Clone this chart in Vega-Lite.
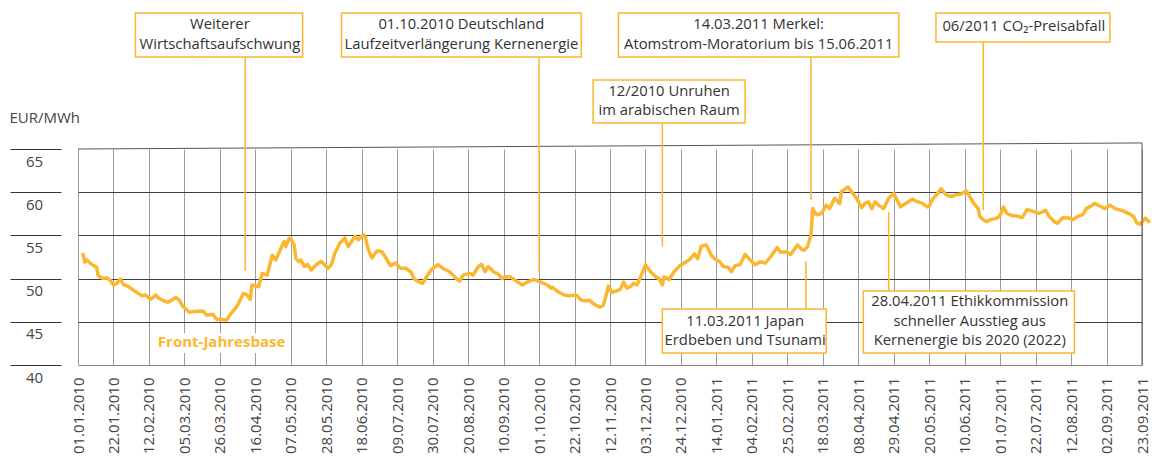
{
  "$schema": "https://vega.github.io/schema/vega-lite/v6.json",
  "width": 1064,
  "height": 216,
  "autosize": {"type": "none"},
  "padding": {"left": 78, "top": 149, "right": 10, "bottom": 105},
  "config": {"font": "Open Sans", "view": {"stroke": null}},
  "datasets": {
    "price": [
      {"d":"2010-01-04","v":52.8},{"d":"2010-01-05","v":51.9},{"d":"2010-01-06","v":52.2},{"d":"2010-01-09","v":51.65},
      {"d":"2010-01-12","v":51.3},{"d":"2010-01-13","v":50.3},{"d":"2010-01-16","v":50.0},{"d":"2010-01-18","v":50.1},
      {"d":"2010-01-20","v":49.8},{"d":"2010-01-22","v":49.26},{"d":"2010-01-24","v":49.45},{"d":"2010-01-26","v":49.95},
      {"d":"2010-01-28","v":49.3},{"d":"2010-01-31","v":49.06},{"d":"2010-02-04","v":48.5},{"d":"2010-02-08","v":48.0},
      {"d":"2010-02-10","v":48.1},{"d":"2010-02-13","v":47.6},{"d":"2010-02-16","v":48.1},{"d":"2010-02-18","v":47.7},
      {"d":"2010-02-23","v":47.25},{"d":"2010-02-28","v":47.8},{"d":"2010-03-02","v":47.5},{"d":"2010-03-04","v":46.8},
      {"d":"2010-03-08","v":46.1},{"d":"2010-03-11","v":46.2},{"d":"2010-03-16","v":46.25},{"d":"2010-03-18","v":45.8},
      {"d":"2010-03-22","v":45.85},{"d":"2010-03-24","v":45.3},{"d":"2010-03-30","v":45.2},{"d":"2010-04-01","v":45.8},
      {"d":"2010-04-05","v":46.75},{"d":"2010-04-09","v":48.3},{"d":"2010-04-11","v":48.1},{"d":"2010-04-13","v":47.6},
      {"d":"2010-04-14","v":49.26},{"d":"2010-04-18","v":49.06},{"d":"2010-04-20","v":50.6},{"d":"2010-04-23","v":50.4},
      {"d":"2010-04-26","v":52.7},{"d":"2010-04-28","v":52.15},{"d":"2010-05-03","v":54.3},{"d":"2010-05-04","v":53.7},
      {"d":"2010-05-06","v":54.66},{"d":"2010-05-07","v":54.6},{"d":"2010-05-09","v":53.9},{"d":"2010-05-10","v":52.3},
      {"d":"2010-05-12","v":51.95},{"d":"2010-05-13","v":52.15},{"d":"2010-05-15","v":51.4},{"d":"2010-05-17","v":51.65},
      {"d":"2010-05-19","v":51.0},{"d":"2010-05-22","v":51.6},{"d":"2010-05-25","v":52.0},{"d":"2010-05-29","v":51.2},
      {"d":"2010-05-31","v":51.6},{"d":"2010-06-02","v":52.9},{"d":"2010-06-05","v":54.1},{"d":"2010-06-08","v":54.7},
      {"d":"2010-06-10","v":53.7},{"d":"2010-06-12","v":54.3},{"d":"2010-06-14","v":54.9},{"d":"2010-06-16","v":54.5},
      {"d":"2010-06-19","v":55.1},{"d":"2010-06-20","v":54.85},{"d":"2010-06-22","v":53.3},{"d":"2010-06-24","v":52.4},
      {"d":"2010-06-27","v":53.2},{"d":"2010-06-30","v":53.1},{"d":"2010-07-02","v":52.5},{"d":"2010-07-05","v":51.5},
      {"d":"2010-07-08","v":51.8},{"d":"2010-07-11","v":51.2},{"d":"2010-07-14","v":51.2},{"d":"2010-07-17","v":50.8},
      {"d":"2010-07-19","v":50.0},{"d":"2010-07-21","v":49.7},{"d":"2010-07-24","v":49.45},{"d":"2010-07-27","v":50.4},
      {"d":"2010-07-30","v":51.2},{"d":"2010-08-02","v":51.6},{"d":"2010-08-05","v":51.2},{"d":"2010-08-09","v":50.8},
      {"d":"2010-08-13","v":50.0},{"d":"2010-08-15","v":49.7},{"d":"2010-08-17","v":50.4},{"d":"2010-08-21","v":50.6},
      {"d":"2010-08-23","v":50.4},{"d":"2010-08-26","v":51.4},{"d":"2010-08-28","v":51.65},{"d":"2010-08-30","v":50.8},
      {"d":"2010-09-01","v":51.4},{"d":"2010-09-04","v":50.8},{"d":"2010-09-07","v":50.5},{"d":"2010-09-09","v":50.0},
      {"d":"2010-09-11","v":50.2},{"d":"2010-09-14","v":50.2},{"d":"2010-09-17","v":49.8},{"d":"2010-09-21","v":49.26},
      {"d":"2010-09-24","v":49.6},{"d":"2010-09-28","v":49.9},{"d":"2010-10-02","v":49.6},{"d":"2010-10-06","v":49.26},
      {"d":"2010-10-08","v":48.9},{"d":"2010-10-09","v":49.0},{"d":"2010-10-12","v":48.5},{"d":"2010-10-16","v":48.1},
      {"d":"2010-10-19","v":48.0},{"d":"2010-10-23","v":48.1},{"d":"2010-10-26","v":47.5},{"d":"2010-10-29","v":47.45},
      {"d":"2010-10-31","v":47.5},{"d":"2010-11-02","v":47.1},{"d":"2010-11-06","v":46.7},{"d":"2010-11-08","v":46.9},
      {"d":"2010-11-10","v":48.3},{"d":"2010-11-11","v":49.1},{"d":"2010-11-13","v":48.4},{"d":"2010-11-15","v":48.5},
      {"d":"2010-11-18","v":48.75},{"d":"2010-11-20","v":49.6},{"d":"2010-11-22","v":48.9},{"d":"2010-11-24","v":49.06},
      {"d":"2010-11-26","v":49.45},{"d":"2010-11-28","v":49.26},{"d":"2010-12-01","v":50.6},{"d":"2010-12-03","v":51.6},
      {"d":"2010-12-06","v":50.8},{"d":"2010-12-09","v":50.2},{"d":"2010-12-11","v":50.0},{"d":"2010-12-13","v":49.26},
      {"d":"2010-12-14","v":50.2},{"d":"2010-12-17","v":49.9},{"d":"2010-12-20","v":50.8},{"d":"2010-12-23","v":51.45},
      {"d":"2010-12-26","v":51.8},{"d":"2010-12-29","v":52.2},{"d":"2011-01-01","v":52.85},{"d":"2011-01-03","v":52.3},
      {"d":"2011-01-05","v":53.75},{"d":"2011-01-08","v":53.9},{"d":"2011-01-11","v":52.7},{"d":"2011-01-13","v":52.3},
      {"d":"2011-01-16","v":51.95},{"d":"2011-01-18","v":51.4},{"d":"2011-01-21","v":51.3},{"d":"2011-01-23","v":50.8},
      {"d":"2011-01-25","v":51.5},{"d":"2011-01-28","v":51.6},{"d":"2011-01-31","v":52.8},{"d":"2011-02-03","v":52.15},
      {"d":"2011-02-06","v":51.6},{"d":"2011-02-09","v":51.95},{"d":"2011-02-12","v":51.8},{"d":"2011-02-15","v":52.5},
      {"d":"2011-02-19","v":53.6},{"d":"2011-02-21","v":53.05},{"d":"2011-02-24","v":53.1},{"d":"2011-02-27","v":52.8},
      {"d":"2011-03-03","v":53.9},{"d":"2011-03-06","v":53.3},{"d":"2011-03-07","v":53.3},{"d":"2011-03-09","v":53.7},
      {"d":"2011-03-11","v":55.05},{"d":"2011-03-12","v":58.1},{"d":"2011-03-14","v":57.4},{"d":"2011-03-17","v":57.5},
      {"d":"2011-03-20","v":58.5},{"d":"2011-03-22","v":58.1},{"d":"2011-03-25","v":59.3},{"d":"2011-03-28","v":58.7},
      {"d":"2011-03-29","v":60.06},{"d":"2011-04-02","v":60.6},{"d":"2011-04-04","v":60.06},{"d":"2011-04-07","v":59.3},
      {"d":"2011-04-10","v":58.2},{"d":"2011-04-12","v":58.7},{"d":"2011-04-14","v":58.9},{"d":"2011-04-16","v":58.1},
      {"d":"2011-04-18","v":58.9},{"d":"2011-04-20","v":58.5},{"d":"2011-04-23","v":58.1},{"d":"2011-04-26","v":59.3},
      {"d":"2011-04-29","v":59.85},{"d":"2011-05-03","v":58.3},{"d":"2011-05-07","v":58.8},{"d":"2011-05-10","v":59.2},
      {"d":"2011-05-13","v":58.9},{"d":"2011-05-16","v":58.7},{"d":"2011-05-19","v":58.3},{"d":"2011-05-20","v":58.4},
      {"d":"2011-05-22","v":59.2},{"d":"2011-05-25","v":59.85},{"d":"2011-05-27","v":60.4},{"d":"2011-05-30","v":59.7},
      {"d":"2011-06-02","v":59.5},{"d":"2011-06-05","v":59.7},{"d":"2011-06-08","v":59.8},{"d":"2011-06-11","v":60.15},
      {"d":"2011-06-13","v":59.5},{"d":"2011-06-15","v":58.8},{"d":"2011-06-18","v":58.1},{"d":"2011-06-19","v":57.2},
      {"d":"2011-06-21","v":56.8},{"d":"2011-06-23","v":56.6},{"d":"2011-06-25","v":56.8},{"d":"2011-06-29","v":57.0},
      {"d":"2011-07-01","v":57.3},{"d":"2011-07-03","v":58.3},{"d":"2011-07-05","v":57.55},{"d":"2011-07-08","v":57.3},
      {"d":"2011-07-12","v":57.2},{"d":"2011-07-14","v":57.05},{"d":"2011-07-17","v":58.0},{"d":"2011-07-21","v":57.75},
      {"d":"2011-07-24","v":57.55},{"d":"2011-07-28","v":57.9},{"d":"2011-07-30","v":57.2},{"d":"2011-08-02","v":56.6},
      {"d":"2011-08-04","v":56.4},{"d":"2011-08-07","v":57.05},{"d":"2011-08-11","v":57.0},{"d":"2011-08-13","v":56.8},
      {"d":"2011-08-16","v":57.2},{"d":"2011-08-19","v":57.4},{"d":"2011-08-21","v":58.1},{"d":"2011-08-23","v":58.3},
      {"d":"2011-08-26","v":58.7},{"d":"2011-08-29","v":58.4},{"d":"2011-09-01","v":58.1},{"d":"2011-09-04","v":58.5},
      {"d":"2011-09-07","v":58.1},{"d":"2011-09-11","v":57.9},{"d":"2011-09-15","v":57.55},{"d":"2011-09-18","v":57.2},
      {"d":"2011-09-20","v":56.4},{"d":"2011-09-22","v":56.3},{"d":"2011-09-25","v":57.0},{"d":"2011-09-27","v":56.6}
    ],
    "boxes": [
      {"x1":"2010-02-04","x2":"2010-05-14","xc":"2010-03-26","y1":75.65,"y2":80.74,"yc":79.35,"t":"Weiterer\nWirtschaftsaufschwung"},
      {"x1":"2010-06-06","x2":"2010-10-26","xc":"2010-08-16","y1":75.65,"y2":80.74,"yc":79.35,"t":"01.10.2010 Deutschland\nLaufzeitverlängerung Kernenergie"},
      {"x1":"2010-11-02","x2":"2011-01-31","xc":"2010-12-17","y1":68.01,"y2":72.99,"yc":71.6,"t":"12/2010 Unruhen\nim arabischen Raum"},
      {"x1":"2010-11-17","x2":"2011-05-02","xc":"2011-02-08","y1":75.65,"y2":80.74,"yc":79.35,"t":"14.03.2011 Merkel:\nAtomstrom-Moratorium bis 15.06.2011"},
      {"x1":"2011-05-24","x2":"2011-09-04","xc":"2011-07-15","y1":77.38,"y2":80.74,"yc":79.1,"t":"06/2011 CO₂-Preisabfall"},
      {"x1":"2010-12-13","x2":"2011-03-20","xc":"2011-01-31","y1":41.39,"y2":46.48,"yc":45.0,"t":"11.03.2011 Japan\nErdbeben und Tsunami"},
      {"x1":"2011-04-11","x2":"2011-08-14","xc":"2011-06-13","y1":41.39,"y2":48.56,"yc":47.29,"t":"28.04.2011 Ethikkommission\nschneller Ausstieg aus\nKernenergie bis 2020 (2022)"}
    ],
    "leaders": [
      {"x":"2010-04-10","ya":75.65,"yb":50.88},
      {"x":"2010-10-01","ya":75.65,"yb":50.88},
      {"x":"2010-12-13","ya":68.01,"yb":53.69},
      {"x":"2011-03-11","ya":75.65,"yb":59.1},
      {"x":"2011-06-21","ya":77.38,"yb":57.94},
      {"x":"2011-03-08","ya":46.48,"yb":52.04},
      {"x":"2011-04-26","ya":48.56,"yb":57.74}
    ],
    "series": [
      {"x1":"2010-02-14","x2":"2010-05-07","xc":"2010-03-27","y1":41.39,"y2":43.7,"yc":42.66,"t":"Front-Jahresbase"}
    ],
    "frame": [
      {"xa":"2010-01-01","ya":65,"xb":"2011-09-23","yb":65.7},
      {"xa":"2011-09-23","ya":40,"xb":"2011-09-23","yb":65.7}
    ]
  },
  "layer": [
    {
      "data": {"name": "price"},
      "mark": {"type": "line", "color": "#fbb731", "strokeWidth": 3.5, "strokeJoin": "round", "strokeCap": "round"},
      "encoding": {
        "x": {
          "field": "d", "type": "temporal",
          "scale": {"type": "utc", "domain": [1262304000000, 1316736000000], "nice": false},
          "axis": {
            "orient": "bottom",
            "tickCount": 60,
            "values": [1262304000000,1264118400000,1265932800000,1267747200000,1269561600000,1271376000000,1273190400000,1275004800000,
                       1276819200000,1278633600000,1280448000000,1282262400000,1284076800000,1285891200000,1287705600000,1289520000000,
                       1291334400000,1293148800000,1294963200000,1296777600000,1298592000000,1300406400000,1302220800000,1304035200000,
                       1305849600000,1307664000000,1309478400000,1311292800000,1313107200000,1314921600000,1316736000000],
            "format": "%d.%m.%Y",
            "labelAngle": 270, "labelAlign": "right", "labelBaseline": "middle", "labelPadding": 12,
            "labelFontSize": 15, "labelColor": "#444444", "labelOverlap": false, "labelFlush": false,
            "ticks": false, "grid": true, "gridColor": "#9c9c9c", "gridWidth": 1,
            "domain": true, "domainColor": "#888888", "domainWidth": 1, "title": null
          }
        },
        "y": {
          "field": "v", "type": "quantitative",
          "scale": {"domain": [40, 65], "nice": false, "zero": false},
          "axis": {"orient": "left", "values": [40, 45, 50, 55, 60, 65], "tickCount": 20, "offset": 17, "tickSize": 51, "tickColor": "#333333", "tickWidth": 1,
                   "domain": false, "grid": false, "labelAlign": "center", "labelBaseline": "middle", "labelPadding": -24, "labelOffset": 12,
                   "labelFontSize": 15, "labelColor": "#444444",
                   "title": "EUR/MWh", "titleAngle": 0, "titleAlign": "left", "titleBaseline": "middle", "titleX": -52, "titleY": -32,
                   "titleFontSize": 15, "titleFontWeight": "normal", "titleColor": "#444444"}
        }
      }
    },
    {
      "data": {"name": "series"},
      "mark": {"type": "rect", "fill": "white"},
      "encoding": {
        "x": {"field": "x1", "type": "temporal", "scale": {"type": "utc", "domain": [1262304000000, 1316736000000], "nice": false}},
        "x2": {"field": "x2"},
        "y": {
          "field": "y1", "type": "quantitative",
          "scale": {"domain": [40, 65], "nice": false, "zero": false},
          "axis": {"orient": "left", "values": [45, 50, 55, 60], "tickCount": 20, "grid": true, "gridColor": "#404040", "gridWidth": 1,
                   "labels": false, "ticks": false, "domain": false, "title": null}
        },
        "y2": {"field": "y2"}
      }
    },
    {
      "data": {"name": "frame"},
      "mark": {"type": "rule", "color": "#555555", "strokeWidth": 1},
      "encoding": {
        "x": {"field": "xa", "type": "temporal", "scale": {"type": "utc", "domain": [1262304000000, 1316736000000], "nice": false}},
        "x2": {"field": "xb"},
        "y": {"field": "ya", "type": "quantitative", "scale": {"domain": [40, 65], "nice": false, "zero": false}, "axis": null},
        "y2": {"field": "yb"}
      }
    },
    {
      "data": {"name": "leaders"},
      "mark": {"type": "rule", "color": "#fbb731", "strokeWidth": 1.5},
      "encoding": {
        "x": {"field": "x", "type": "temporal", "scale": {"type": "utc", "domain": [1262304000000, 1316736000000], "nice": false}},
        "y": {"field": "ya", "type": "quantitative", "scale": {"domain": [40, 65], "nice": false, "zero": false}, "axis": null},
        "y2": {"field": "yb"}
      }
    },
    {
      "data": {"name": "boxes"},
      "mark": {"type": "rect", "fill": "white", "stroke": "#fbb731", "strokeWidth": 1.5},
      "encoding": {
        "x": {"field": "x1", "type": "temporal", "scale": {"type": "utc", "domain": [1262304000000, 1316736000000], "nice": false}},
        "x2": {"field": "x2"},
        "y": {"field": "y1", "type": "quantitative", "scale": {"domain": [40, 65], "nice": false, "zero": false}, "axis": null},
        "y2": {"field": "y2"}
      }
    },
    {
      "data": {"name": "boxes"},
      "mark": {"type": "text", "fontSize": 14.8, "color": "#333333", "align": "center", "baseline": "middle", "lineBreak": "\n", "lineHeight": 19.5},
      "encoding": {
        "x": {"field": "xc", "type": "temporal", "scale": {"type": "utc", "domain": [1262304000000, 1316736000000], "nice": false}},
        "y": {"field": "yc", "type": "quantitative", "scale": {"domain": [40, 65], "nice": false, "zero": false}, "axis": null},
        "text": {"field": "t"}
      }
    },
    {
      "data": {"name": "series"},
      "mark": {"type": "text", "fontSize": 15, "fontWeight": "bold", "color": "#fbb731", "align": "center", "baseline": "middle"},
      "encoding": {
        "x": {"field": "xc", "type": "temporal", "scale": {"type": "utc", "domain": [1262304000000, 1316736000000], "nice": false}},
        "y": {"field": "yc", "type": "quantitative", "scale": {"domain": [40, 65], "nice": false, "zero": false}, "axis": null},
        "text": {"field": "t"}
      }
    }
  ],
  "resolve": {"axis": {"y": "independent"}}
}
